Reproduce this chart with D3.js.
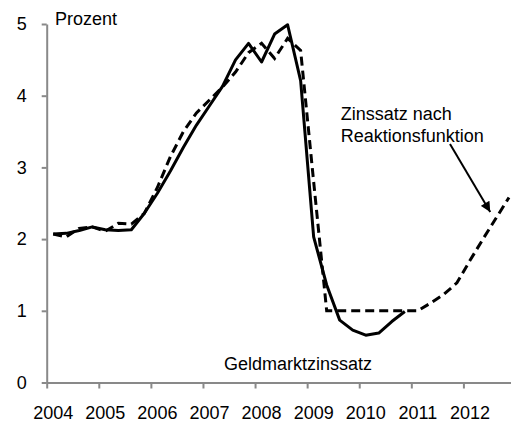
<!DOCTYPE html>
<html>
<head>
<meta charset="utf-8">
<script src="https://cdn.jsdelivr.net/npm/d3@7"></script>
<style>
  html, body { margin: 0; padding: 0; background: #fff; }
  svg { display: block; }
  text { font-family: "Liberation Sans", Arial, sans-serif; fill: #000; }
</style>
</head>
<body>
<svg id="chart" width="511" height="427"></svg>
<script>
// Year labels along the x axis (quarterly data, 4 quarters per year)
const years = ["2004", "2005", "2006", "2007", "2008", "2009", "2010", "2011", "2012"];
const yTicks = [0, 1, 2, 3, 4, 5];

// Money market rate, quarterly from 2004 Q1 (percent)
const geldmarkt = [
  2.07, 2.08, 2.12, 2.17, 2.13, 2.12, 2.13, 2.36,
  2.64, 2.95, 3.28, 3.59, 3.86, 4.13, 4.50, 4.73,
  4.47, 4.86, 4.99, 4.21, 2.03, 1.36, 0.87, 0.73,
  0.66, 0.69, 0.85, 0.99
];

// Rate implied by the reaction function, quarterly from 2004 Q1 (percent)
const reaktion = [
  2.07, 2.03, 2.15, 2.17, 2.11, 2.22, 2.21, 2.36,
  2.72, 3.15, 3.50, 3.76, 3.94, 4.12, 4.33, 4.60,
  4.73, 4.52, 4.80, 4.63, 2.80, 1.00, 1.00, 1.00,
  1.00, 1.00, 1.00, 1.00, 1.00, 1.11, 1.23, 1.39,
  1.70, 2.00, 2.29, 2.58
];

const svg = d3.select("#chart");
const axisColor = "#898989";

// x in quarters since 2004 Q1; each point sits in the middle of its quarter
const x = d3.scaleLinear().domain([0, 36]).range([46.7, 515.5]);
const y = d3.scaleLinear().domain([0, 5]).range([382.5, 24]);

// y axis
const yAxis = svg.append("g")
  .attr("transform", `translate(${x(0)},0)`)
  .call(d3.axisLeft(y).tickValues(yTicks).tickSize(5).tickSizeOuter(0).tickPadding(15).tickFormat(d3.format("d")));
yAxis.select(".domain").attr("stroke", axisColor).attr("stroke-width", 2);
yAxis.selectAll(".tick line").attr("stroke", axisColor).attr("stroke-width", 2);
yAxis.selectAll(".tick text")
  .style("font-family", '"Liberation Sans", Arial, sans-serif')
  .style("font-size", "18px").attr("fill", "#000");

// x axis: tick marks at year boundaries, labels under the first quarter
const yearStarts = years.map((_, i) => i * 4);
const xAxis = svg.append("g")
  .attr("transform", `translate(0,${y(0)})`)
  .call(d3.axisBottom(x).tickValues(yearStarts).tickSize(6).tickSizeOuter(0).tickFormat(""));
xAxis.select(".domain").attr("stroke", axisColor).attr("stroke-width", 2);
xAxis.selectAll(".tick line").attr("stroke", axisColor).attr("stroke-width", 2);

svg.append("g").selectAll("text")
  .data(years)
  .join("text")
  .attr("x", (d, i) => x(i * 4 + 0.5))
  .attr("y", 419)
  .attr("text-anchor", "middle")
  .style("font-size", "18px")
  .text(d => d);

// series lines
const line = d3.line()
  .x((d, i) => x(i + 0.5))
  .y(d => y(d));

svg.append("path")
  .datum(geldmarkt)
  .attr("d", line)
  .attr("fill", "none")
  .attr("stroke", "#000")
  .attr("stroke-width", 3)
  .attr("stroke-linejoin", "round");

svg.append("path")
  .datum(reaktion)
  .attr("d", line)
  .attr("fill", "none")
  .attr("stroke", "#000")
  .attr("stroke-width", 3)
  .attr("stroke-dasharray", "9,5");

// labels
svg.append("text")
  .attr("x", 55).attr("y", 25)
  .style("font-size", "18px")
  .text("Prozent");

svg.append("text")
  .attr("x", 224).attr("y", 370)
  .style("font-size", "18px")
  .text("Geldmarktzinssatz");

const note = svg.append("text")
  .attr("x", x(22.58))
  .style("font-size", "18px");
note.append("tspan").attr("x", x(22.58)).attr("y", y(3.66)).text("Zinssatz nach");
note.append("tspan").attr("x", x(22.58)).attr("y", y(3.355)).text("Reaktionsfunktion");

// arrow pointing to the end of the reaction-function line
svg.append("defs").append("marker")
  .attr("id", "arrowhead")
  .attr("viewBox", "0 0 10 10")
  .attr("refX", 10).attr("refY", 5)
  .attr("markerWidth", 12).attr("markerHeight", 10)
  .attr("markerUnits", "userSpaceOnUse")
  .attr("orient", "auto")
  .append("path")
  .attr("d", "M0,0 L10,5 L0,10 Z")
  .attr("fill", "#000");

svg.append("line")
  .attr("x1", x(30.97)).attr("y1", y(3.326))
  .attr("x2", x(34.06)).attr("y2", y(2.378))
  .attr("stroke", "#000")
  .attr("stroke-width", 2)
  .attr("marker-end", "url(#arrowhead)");
</script>
</body>
</html>
